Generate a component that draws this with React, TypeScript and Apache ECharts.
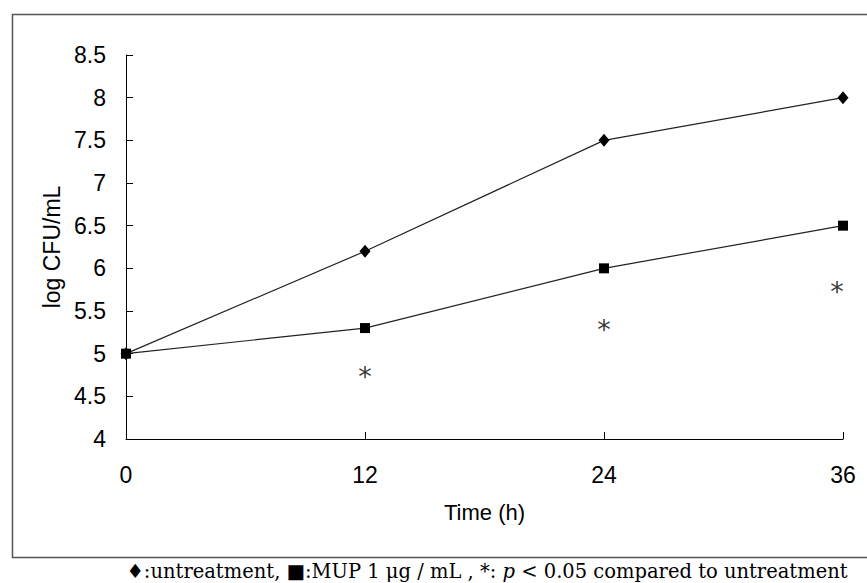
import React, { useEffect, useRef } from "react";
import * as echarts from "echarts";

const timeHours = [0, 12, 24, 36];
const untreatment = [5, 6.2, 7.5, 8];
const mup = [5, 5.3, 6, 6.5];
const asteriskX = [12, 24, 35.7];
const asteriskY = [4.8, 5.35, 5.8];

const SANS = "Arial, 'Liberation Sans', sans-serif";
const SERIF = "'DejaVu Serif', serif";

export default function App() {
  const ref = useRef<HTMLDivElement>(null);
  useEffect(() => {
    if (!ref.current) return;
    const chart = echarts.init(ref.current, null, { renderer: "svg" });
    chart.setOption({
      animation: false,
      backgroundColor: "#ffffff",
      grid: { left: 126, top: 55, right: 24, bottom: 144, containLabel: false },
      xAxis: {
        type: "value",
        min: 0,
        max: 36,
        interval: 12,
        name: "Time (h)",
        nameLocation: "middle",
        nameGap: 62,
        nameTextStyle: { fontFamily: SANS, fontSize: 22, color: "#000" },
        axisLine: { lineStyle: { color: "#000", width: 1 } },
        axisTick: { inside: true, length: 7, lineStyle: { color: "#000" } },
        axisLabel: { fontFamily: SANS, fontSize: 23, color: "#000", margin: 24 },
        splitLine: { show: false },
      },
      yAxis: {
        type: "value",
        min: 4,
        max: 8.5,
        interval: 0.5,
        name: "log CFU/mL",
        nameLocation: "middle",
        nameGap: 56,
        nameRotate: 90,
        nameTextStyle: { fontFamily: SANS, fontSize: 23, color: "#000" },
        axisLine: { show: true, lineStyle: { color: "#000", width: 1 } },
        axisTick: { show: true, inside: true, length: 7, lineStyle: { color: "#000" } },
        axisLabel: { fontFamily: SANS, fontSize: 23, color: "#000", margin: 20 },
        splitLine: { show: false },
      },
      series: [
        {
          type: "line",
          name: "untreatment",
          data: timeHours.map((t, i) => [t, untreatment[i]]),
          symbol: "diamond",
          symbolSize: [11, 13],
          showSymbol: true,
          lineStyle: { color: "#222", width: 1.2 },
          itemStyle: { color: "#000" },
        },
        {
          type: "line",
          name: "MUP",
          data: timeHours.map((t, i) => [t, mup[i]]),
          symbol: "rect",
          symbolSize: 10,
          showSymbol: true,
          lineStyle: { color: "#222", width: 1.2 },
          itemStyle: { color: "#000" },
        },
        {
          type: "scatter",
          name: "sig",
          data: asteriskX.map((t, i) => [t, asteriskY[i]]),
          symbolSize: 1,
          itemStyle: { color: "rgba(0,0,0,0)" },
          label: {
            show: true,
            position: "inside",
            formatter: "*",
            fontFamily: "'DejaVu Sans', sans-serif",
            fontSize: 27,
            color: "#000",
            offset: [0, 6],
          },
        },
      ],
      graphic: [
        {
          type: "rect",
          left: 10,
          top: 12,
          shape: { x: 0, y: 0, width: 880, height: 543 },
          style: { fill: "none", stroke: "#555", lineWidth: 1.5 },
          silent: true,
          z: -1,
        },
        {
          type: "text",
          x: 487,
          y: 571,
          style: {
            text: "{a|♦:untreatment, ■:MUP 1 μg / mL , *: }{i|p}{a| < 0.05 compared to untreatment}",
            align: "center",
            verticalAlign: "middle",
            rich: {
              a: { fontFamily: SERIF, fontSize: 19.5, fill: "#000" },
              i: { fontFamily: SERIF, fontSize: 19.5, fontStyle: "italic", fill: "#000" },
            },
          },
        },
      ],
    });
    return () => chart.dispose();
  }, []);
  return <div ref={ref} style={{ width: 867, height: 583, position: "absolute", left: 0, top: 0 }} />;
}
